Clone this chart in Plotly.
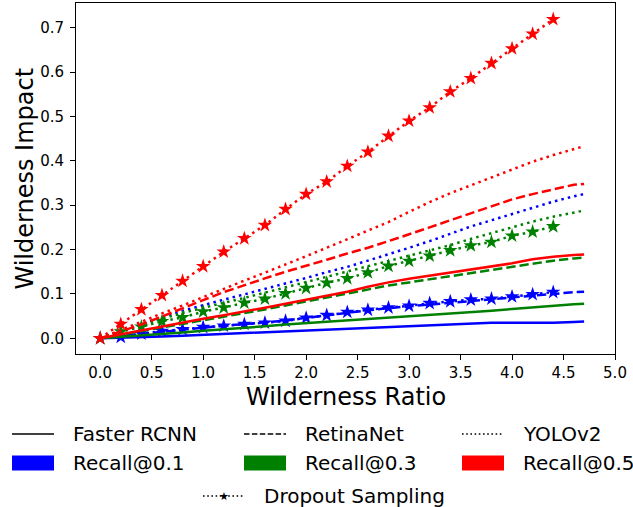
import plotly.graph_objects as go

# ---------------- data ----------------
x_lines = [0.0, 0.2, 0.4, 0.6, 0.8, 1.0, 1.2, 1.4, 1.6, 1.8, 2.0, 2.2, 2.4,
           2.6, 2.8, 3.0, 3.2, 3.4, 3.6, 3.8, 4.0, 4.2, 4.4, 4.6, 4.7]
x_dropout = [0.0, 0.2, 0.4, 0.6, 0.8, 1.0, 1.2, 1.4, 1.6, 1.8, 2.0, 2.2,
             2.4, 2.6, 2.8, 3.0, 3.2, 3.4, 3.6, 3.8, 4.0, 4.2, 4.4]

# Faster RCNN (solid)
frcnn_r01 = [0, 0.001, 0.003, 0.004, 0.006, 0.008, 0.010, 0.012, 0.014, 0.016, 0.018, 0.020, 0.022,
             0.024, 0.026, 0.028, 0.030, 0.032, 0.034, 0.035, 0.035, 0.035, 0.035, 0.037, 0.038]
frcnn_r03 = [0, 0.003, 0.006, 0.010, 0.013, 0.017, 0.020, 0.023, 0.027, 0.031, 0.034, 0.037, 0.040,
             0.044, 0.047, 0.050, 0.052, 0.055, 0.058, 0.062, 0.066, 0.070, 0.073, 0.077, 0.078]
frcnn_r05 = [0, 0.009, 0.018, 0.027, 0.035, 0.044, 0.052, 0.060, 0.069, 0.078, 0.087, 0.096, 0.105,
             0.116, 0.126, 0.134, 0.141, 0.147, 0.154, 0.161, 0.169, 0.178, 0.184, 0.188, 0.189]
# RetinaNet (dashed)
retina_r01 = [0, 0.005, 0.010, 0.015, 0.020, 0.024, 0.028, 0.032, 0.036, 0.040, 0.046, 0.052, 0.058,
              0.063, 0.068, 0.072, 0.077, 0.081, 0.085, 0.088, 0.093, 0.097, 0.101, 0.104, 0.105]
retina_r03 = [0, 0.008, 0.016, 0.024, 0.032, 0.040, 0.048, 0.056, 0.065, 0.074, 0.083, 0.092, 0.100,
              0.110, 0.119, 0.126, 0.133, 0.140, 0.147, 0.154, 0.161, 0.169, 0.175, 0.180, 0.182]
retina_r05 = [0, 0.015, 0.031, 0.049, 0.068, 0.086, 0.104, 0.120, 0.135, 0.150, 0.163, 0.177, 0.191,
              0.204, 0.219, 0.234, 0.250, 0.266, 0.282, 0.298, 0.313, 0.325, 0.336, 0.346, 0.348]
# YOLOv2 (dotted)
yolo_r01 = [0, 0.016, 0.032, 0.048, 0.062, 0.075, 0.087, 0.099, 0.111, 0.123, 0.136, 0.149, 0.161,
            0.175, 0.189, 0.204, 0.219, 0.236, 0.252, 0.266, 0.280, 0.295, 0.308, 0.320, 0.325]
yolo_r03 = [0, 0.015, 0.030, 0.044, 0.057, 0.069, 0.080, 0.091, 0.103, 0.114, 0.126, 0.138, 0.150,
            0.162, 0.174, 0.186, 0.198, 0.210, 0.224, 0.237, 0.250, 0.263, 0.274, 0.284, 0.288]
yolo_r05 = [0, 0.019, 0.037, 0.056, 0.074, 0.093, 0.111, 0.130, 0.148, 0.166, 0.185, 0.204, 0.223,
            0.243, 0.262, 0.285, 0.307, 0.327, 0.345, 0.363, 0.380, 0.398, 0.413, 0.427, 0.433]
# Dropout Sampling (dotted + stars)
dropout_r01 = [0, 0.003, 0.010, 0.016, 0.020, 0.025, 0.028, 0.032, 0.035, 0.039, 0.046, 0.052,
               0.059, 0.064, 0.069, 0.073, 0.079, 0.083, 0.087, 0.089, 0.094, 0.099, 0.104]
dropout_r03 = [0, 0.015, 0.026, 0.038, 0.047, 0.060, 0.069, 0.080, 0.089, 0.101, 0.113, 0.125,
               0.135, 0.148, 0.163, 0.174, 0.186, 0.198, 0.209, 0.217, 0.231, 0.240, 0.252]
dropout_r05 = [0, 0.032, 0.065, 0.097, 0.129, 0.162, 0.195, 0.225, 0.255, 0.291, 0.325, 0.353,
               0.388, 0.420, 0.456, 0.490, 0.520, 0.556, 0.586, 0.620, 0.653, 0.686, 0.719]

x_ticks = [0.0, 0.5, 1.0, 1.5, 2.0, 2.5, 3.0, 3.5, 4.0, 4.5, 5.0]
y_ticks = [0.0, 0.1, 0.2, 0.3, 0.4, 0.5, 0.6, 0.7]

model_labels = ["Faster RCNN", "RetinaNet", "YOLOv2"]
recall_labels = ["Recall@0.1", "Recall@0.3", "Recall@0.5"]
dropout_label = "Dropout Sampling"

# ---------------- style ----------------
BLUE, GREEN, RED = "#0000ff", "#008000", "#ff0000"
FONT = "DejaVu Sans"
W, H = 633, 507
L, R, T, B = 76, 615, 3, 354
LW = 2.5
DOT = "2.5px,4.1px"
DASH = "9.3px,4px"
LEG_DOT = "1.6px,2.6px"
LEG_DASH = "5.5px,2.4px"


def px(x):
    return (x - L) / (R - L)


def py(y):
    return (B - y) / (B - T)


fig = go.Figure()

groups = [
    (BLUE, frcnn_r01, retina_r01, yolo_r01, dropout_r01),
    (GREEN, frcnn_r03, retina_r03, yolo_r03, dropout_r03),
    (RED, frcnn_r05, retina_r05, yolo_r05, dropout_r05),
]
for color, fr, rn, yo, dp in groups:
    for ys, dash in ((fr, "solid"), (rn, DASH), (yo, DOT)):
        fig.add_trace(go.Scatter(x=x_lines, y=ys, mode="lines",
                                 line=dict(color=color, width=LW, dash=dash),
                                 showlegend=False, hoverinfo="skip"))
    fig.add_trace(go.Scatter(x=x_dropout, y=dp, mode="lines+markers",
                             line=dict(color=color, width=LW, dash=DOT),
                             marker=dict(symbol="star", size=11, color=color,
                                         line=dict(width=0)),
                             showlegend=False, hoverinfo="skip"))

axis_common = dict(showline=True, mirror=True, linecolor="black", linewidth=1,
                   ticks="outside", ticklen=5, tickwidth=1, tickcolor="black",
                   showgrid=False, zeroline=False,
                   tickfont=dict(family=FONT, size=15, color="black"))

fig.update_xaxes(range=[-0.235, 5.0], tickvals=x_ticks,
                 ticktext=[f"{v:.1f}" for v in x_ticks], **axis_common)
fig.update_yaxes(range=[-0.0354, 0.7557], tickvals=y_ticks,
                 ticktext=[f"{v:.1f}" for v in y_ticks], ticklabelstandoff=3,
                 **axis_common)

annotations = [
    dict(text="Wilderness Ratio", x=px((L + R) / 2), y=py(397), xref="paper", yref="paper",
         xanchor="center", yanchor="middle", showarrow=False,
         font=dict(family=FONT, size=24, color="black")),
    dict(text="Wilderness Impact", x=px(24), y=py((T + B) / 2), xref="paper", yref="paper",
         xanchor="center", yanchor="middle", showarrow=False, textangle=-90,
         font=dict(family=FONT, size=24, color="black")),
]
shapes = []

col_x = [12, 244, 462]
handle_w = 42
text_off = 59
row1_y, row2_y, row3_y = 434, 463, 496
legend_dashes = ["solid", LEG_DASH, LEG_DOT]

for i, lab in enumerate(model_labels):
    x0 = col_x[i]
    shapes.append(dict(type="line", xref="paper", yref="paper",
                       x0=px(x0), x1=px(x0 + handle_w), y0=py(row1_y), y1=py(row1_y),
                       line=dict(color="black", width=1.6, dash=legend_dashes[i])))
    annotations.append(dict(text=lab, x=px(x0 + text_off), y=py(row1_y), xref="paper",
                            yref="paper", xanchor="left", yanchor="middle", showarrow=False,
                            font=dict(family=FONT, size=20, color="black")))

for i, (lab, color) in enumerate(zip(recall_labels, [BLUE, GREEN, RED])):
    x0 = col_x[i]
    shapes.append(dict(type="rect", xref="paper", yref="paper",
                       x0=px(x0), x1=px(x0 + handle_w), y0=py(row2_y - 7.5), y1=py(row2_y + 7.5),
                       fillcolor=color, line=dict(width=0)))
    annotations.append(dict(text=lab, x=px(x0 + text_off), y=py(row2_y), xref="paper",
                            yref="paper", xanchor="left", yanchor="middle", showarrow=False,
                            font=dict(family=FONT, size=20, color="black")))

x0 = 203
shapes.append(dict(type="line", xref="paper", yref="paper",
                   x0=px(x0), x1=px(x0 + handle_w), y0=py(row3_y), y1=py(row3_y),
                   line=dict(color="black", width=1.6, dash=LEG_DOT)))
annotations.append(dict(text="★", x=px(x0 + handle_w / 2), y=py(row3_y), xref="paper",
                        yref="paper", xanchor="center", yanchor="middle", showarrow=False,
                        font=dict(family=FONT, size=11, color="black")))
annotations.append(dict(text=dropout_label, x=px(x0 + text_off), y=py(row3_y), xref="paper",
                        yref="paper", xanchor="left", yanchor="middle", showarrow=False,
                        font=dict(family=FONT, size=20, color="black")))

fig.update_layout(width=W, height=H, margin=dict(l=L, r=W - R, t=T, b=H - B, autoexpand=False),
                  paper_bgcolor="white", plot_bgcolor="white",
                  font=dict(family=FONT, color="black"),
                  annotations=annotations, shapes=shapes, showlegend=False)

fig.write_html("out.html", config={"displayModeBar": False},
               post_script="document.body.style.margin='0';document.body.style.padding='0';"
                           "document.body.style.overflow='hidden';")
